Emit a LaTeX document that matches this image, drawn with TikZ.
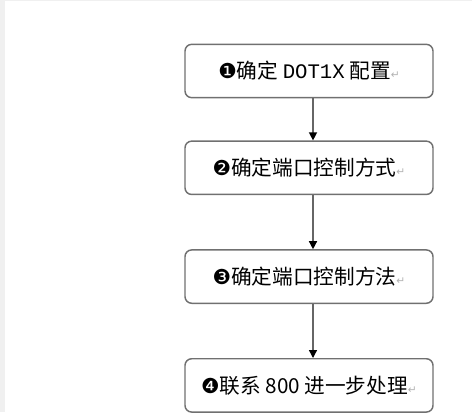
\documentclass[tikz,border=0pt]{standalone}
\usepackage{fontspec}
\setmainfont{Noto Sans CJK SC}
\newfontfamily\symfont{DejaVu Sans}
\newfontfamily\latinmono{Liberation Mono}
\usetikzlibrary{positioning,arrows.meta}
\definecolor{boxgray}{HTML}{707070}
\definecolor{stripgray}{HTML}{F0F0F0}
\newcommand{\stepno}[1]{{\symfont #1}}
\newcommand{\retmark}{{\symfont\color{gray!60}\footnotesize ↵}}
\begin{document}
\begin{tikzpicture}[x=0.75pt,y=-0.75pt,
  every node/.style={draw=boxgray,line width=1.1pt,rounded corners=5pt,
    minimum width=186pt,minimum height=40pt,inner sep=0pt,font=\fontsize{15.5}{18}\selectfont},
  flow/.style={draw=gray!80!black,line width=1pt,-{Triangle[width=6pt,length=6pt,black]}},
  node distance=31.5pt]
\useasboundingbox (0,0) rectangle (472,412);
\fill[stripgray] (0,0) rectangle (5,412);
\fill[stripgray] (0,0) rectangle (472,1);
\node (dot) at (309,71) {\stepno{❶}确定 {\latinmono DOT1X} 配置\retmark};
\node[below=of dot] (mode) {\stepno{❷}确定端口控制方式\retmark};
\node[below=40.5pt of mode] (method) {\stepno{❸}确定端口控制方法\retmark};
\node[below=40.5pt of method] (call) {\stepno{❹}联系 800 进一步处理\retmark};
\draw[flow] ([xshift=3pt]dot.south) -- ([xshift=3pt]mode.north);
\draw[flow] ([xshift=3pt]mode.south) -- ([xshift=3pt]method.north);
\draw[flow] ([xshift=3pt]method.south) -- ([xshift=3pt]call.north);
\end{tikzpicture}
\end{document}
